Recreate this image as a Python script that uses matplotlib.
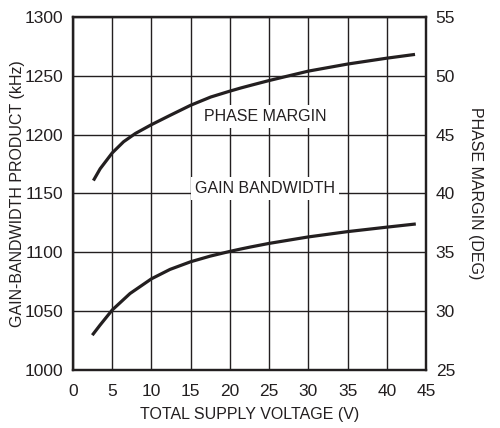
import matplotlib.pyplot as plt

plt.rcParams['font.family'] = ['Liberation Sans', 'DejaVu Sans']

# 위상 여유 곡선 (오른쪽 축, DEG)
pm_volt = [2.6, 3.46, 5, 6.45, 7.95, 10, 12.4, 15, 17.56, 20, 21.4, 22.7, 25, 30, 35, 40, 43.6]
pm_deg = [41.1, 42.1, 43.45, 44.4, 45.1, 45.85, 46.65, 47.5, 48.2, 48.7, 48.97, 49.2,
          49.6, 50.4, 51.0, 51.5, 51.82]

# 이득 대역폭 곡선 (왼쪽 축, kHz)
gb_volt = [2.46, 3.44, 5, 7.27, 10, 12.37, 15, 17.5, 20, 21.3, 22.6, 25, 30, 35, 40, 43.7]
gb_khz = [1029.6, 1038.1, 1051, 1065, 1077.5, 1085.5, 1092, 1096.8, 1100.8, 1102.7,
          1104.5, 1107.6, 1113.1, 1117.6, 1121.4, 1124.1]

fig = plt.figure(figsize=(5, 4.28), dpi=100)
ax = fig.add_axes([0.146, 0.1355, 0.706, 0.8248])
ax2 = ax.twinx()

ax.plot(gb_volt, gb_khz, color='#231f20', lw=2.3, solid_capstyle='butt')
ax2.plot(pm_volt, pm_deg, color='#231f20', lw=2.3, solid_capstyle='butt')

ax.set_xlim(0, 45)
ax.set_ylim(1000, 1300)
ax2.set_ylim(25, 55)
ax.set_xticks(range(0, 46, 5))
ax.set_yticks(range(1000, 1301, 50))
ax2.set_yticks(range(25, 56, 5))
ax.grid(True, color='#231f20', lw=1.0)

for a in (ax, ax2):
    a.tick_params(length=0, labelsize=12.5, pad=7, colors='#231f20')
    for s in a.spines.values():
        s.set_linewidth(1.6)
        s.set_color('#231f20')
ax.tick_params(axis='x', pad=10)

ax.set_xlabel('TOTAL SUPPLY VOLTAGE (V)', fontsize=11.5, color='#231f20', labelpad=6)
ax.set_ylabel('GAIN-BANDWIDTH PRODUCT (kHz)', fontsize=11.5, color='#231f20', labelpad=0)
ax2.set_ylabel('PHASE MARGIN (DEG)', fontsize=11.5, color='#231f20', rotation=-90, labelpad=20)

bb = dict(facecolor='white', edgecolor='none', pad=3)
ax.text(24.5, 1215.5, 'PHASE MARGIN', ha='center', va='center', fontsize=11.5,
        color='#231f20', bbox=bb, zorder=5)
ax.text(24.5, 1154.5, 'GAIN BANDWIDTH', ha='center', va='center', fontsize=11.5,
        color='#231f20', bbox=bb, zorder=5)

fig.savefig('out.png', dpi=100)
